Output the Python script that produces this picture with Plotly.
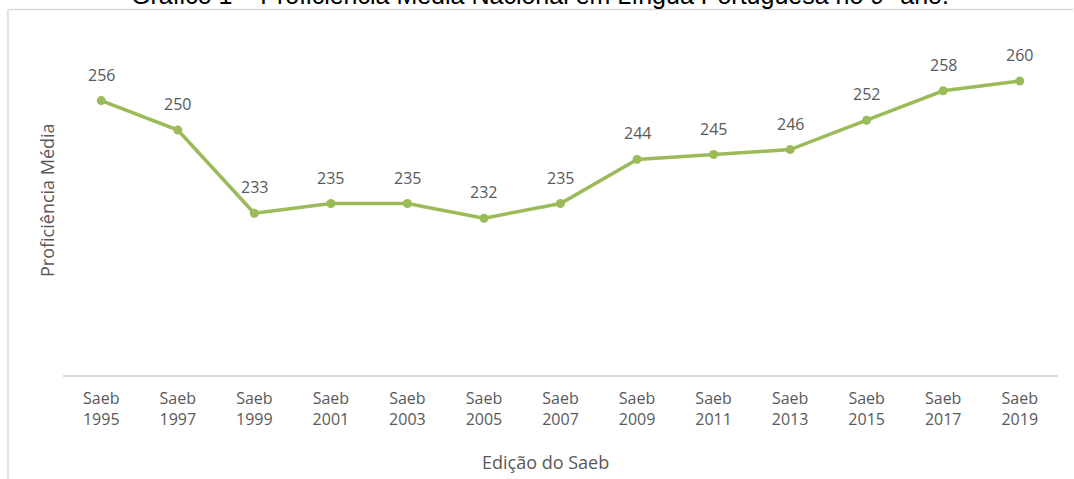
import plotly.graph_objects as go

years = ["1995", "1997", "1999", "2001", "2003", "2005", "2007", "2009", "2011", "2013", "2015", "2017", "2019"]
values = [256, 250, 233, 235, 235, 232, 235, 244, 245, 246, 252, 258, 260]
categories = ["Saeb<br>" + y for y in years]

title_text = "Gráfico 1 – Proficiência Média Nacional em Língua Portuguesa no 9º ano."
x_title = "Edição do Saeb"
y_title = "Proficiência Média"

W, H = 1074, 479
L, R, T, B = 63, 16, 32, 104
pw, ph = W - L - R, H - T - B

def px_x(p):
    return (p - L) / pw

def px_y(p):
    return (H - B - p) / ph

GREEN = "#9BBB59"
GRAY = "#595959"
FONT = "Open Sans"

fig = go.Figure()
fig.add_trace(go.Scatter(
    x=categories, y=values, mode="lines+markers",
    line=dict(color=GREEN, width=3.5),
    marker=dict(color=GREEN, size=9),
    hoverinfo="skip", showlegend=False,
))

annotations = []
for c, v in zip(categories, values):
    annotations.append(dict(x=c, y=v, xref="x", yref="y", text=str(v), showarrow=False,
                            yshift=26, font=dict(family=FONT, size=16, color=GRAY)))

annotations.append(dict(x=px_x(540), y=px_y(-5), xref="paper", yref="paper", text=title_text,
                        showarrow=False, xanchor="center", yanchor="middle",
                        font=dict(family="Liberation Sans", size=25, color="#000000")))
annotations.append(dict(x=px_x(545), y=px_y(462), xref="paper", yref="paper", text=x_title,
                        showarrow=False, xanchor="center", yanchor="middle",
                        font=dict(family=FONT, size=18, color=GRAY)))
annotations.append(dict(x=px_x(47), y=px_y(200), xref="paper", yref="paper", text=y_title,
                        showarrow=False, xanchor="center", yanchor="middle", textangle=-90,
                        font=dict(family=FONT, size=18, color=GRAY)))

shapes = [
    dict(type="line", xref="paper", yref="paper", x0=px_x(8), x1=px_x(1073), y0=px_y(9.5), y1=px_y(9.5),
         line=dict(color="#D9D9D9", width=1.5)),
    dict(type="line", xref="paper", yref="paper", x0=px_x(8), x1=px_x(8), y0=px_y(9.5), y1=px_y(480),
         line=dict(color="#D9D9D9", width=1.5)),
]

fig.update_layout(
    width=W, height=H,
    margin=dict(l=L, r=R, t=T, b=B),
    paper_bgcolor="white", plot_bgcolor="white",
    annotations=annotations, shapes=shapes,
    xaxis=dict(range=[-0.5, len(categories) - 0.5], showgrid=False, showline=True,
               linecolor="#D9D9D9", linewidth=1.5, ticklabelstandoff=8,
               ticks="", tickfont=dict(family=FONT, size=16, color=GRAY), zeroline=False,
               fixedrange=True),
    yaxis=dict(range=[200, 270], showgrid=False, showline=False, showticklabels=False,
               ticks="", zeroline=False, fixedrange=True),
)

fig.write_html("out.html", config={"displayModeBar": False})
